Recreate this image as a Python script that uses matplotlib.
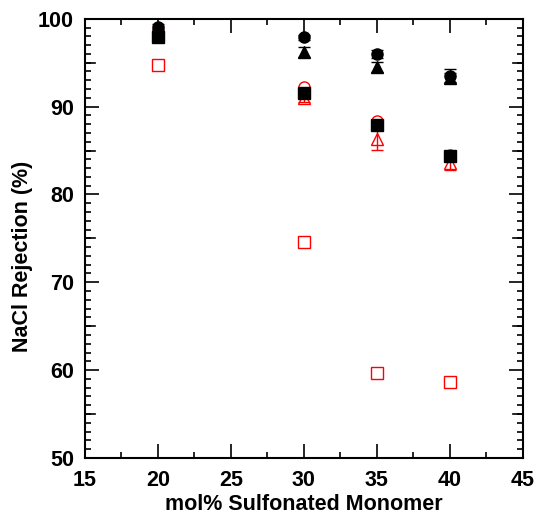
import matplotlib
matplotlib.use("Agg")
import matplotlib.pyplot as plt
from matplotlib.ticker import MultipleLocator

# mol% sulfonated monomer
x = [20, 30, 35, 40]

# NaCl rejection (%) for each series
black_circle = [99.1, 97.9, 96.0, 93.5]
black_circle_err = [0.3, 0.3, 0.5, 0.8]
black_tri = [98.4, 96.2, 94.5, 93.3]
black_tri_err = [0.3, 0.6, 0.6, 0.5]
black_square = [97.9, 91.5, 87.9, 84.4]
red_circle = [98.5, 92.2, 88.4, 84.5]
red_tri = [98.3, 91.0, 86.3, 83.6]
red_tri_err = [0.3, 0.5, 1.2, 0.8]
red_square = [94.7, 74.6, 59.7, 58.7]

plt.rcParams['font.family'] = ['Liberation Sans', 'DejaVu Sans']
plt.rcParams['font.weight'] = 'bold'

fig = plt.figure(figsize=(5.38, 5.21), dpi=100)
ax = fig.add_axes([0.158, 0.121, 0.814, 0.843])

ms = 8
ax.errorbar(x, red_tri, yerr=red_tri_err, fmt='^', mfc='none', mec='red', ecolor='red',
            ms=ms, mew=1.0, capsize=4, elinewidth=1.0, zorder=3)
ax.plot(x, red_circle, 'o', mfc='none', mec='red', ms=ms, mew=1.0, zorder=3)
ax.plot(x, red_square, 's', mfc='none', mec='red', ms=ms, mew=1.0, zorder=3)
ax.errorbar(x, black_tri, yerr=black_tri_err, fmt='^', color='black', ms=ms,
            capsize=4, elinewidth=1.0, zorder=4)
ax.plot(x, black_square, 's', color='black', ms=ms, zorder=4)
ax.errorbar(x, black_circle, yerr=black_circle_err, fmt='o', color='black', ms=ms,
            capsize=4, elinewidth=1.0, zorder=5)

ax.set_xlim(15, 45)
ax.set_ylim(50, 100)
ax.xaxis.set_major_locator(MultipleLocator(5))
ax.xaxis.set_minor_locator(MultipleLocator(2.5))
ax.yaxis.set_major_locator(MultipleLocator(10))
ax.yaxis.set_minor_locator(MultipleLocator(1))

ax.tick_params(which='both', direction='in', top=True, right=True, width=1.2,
               labelsize=15.5)
ax.tick_params(axis='x', pad=9)
ax.tick_params(axis='y', pad=8)
ax.tick_params(which='major', length=10)
ax.tick_params(which='minor', length=4)
# medium ticks at the 5's on y
for yv in [55, 65, 75, 85, 95]:
    ax.plot([15, 15 + 30 * 10 / 438], [yv, yv], color='black', lw=1.2, clip_on=False)
    ax.plot([45 - 30 * 10 / 438, 45], [yv, yv], color='black', lw=1.2, clip_on=False)

for s in ax.spines.values():
    s.set_linewidth(1.5)

ax.set_xlabel('mol% Sulfonated Monomer', fontsize=15.5, fontweight='bold', labelpad=2)
ax.set_ylabel('NaCl Rejection (%)', fontsize=15.5, fontweight='bold')
ax.yaxis.set_label_coords(-0.118, 0.46)

fig.savefig('out.png', dpi=100)
